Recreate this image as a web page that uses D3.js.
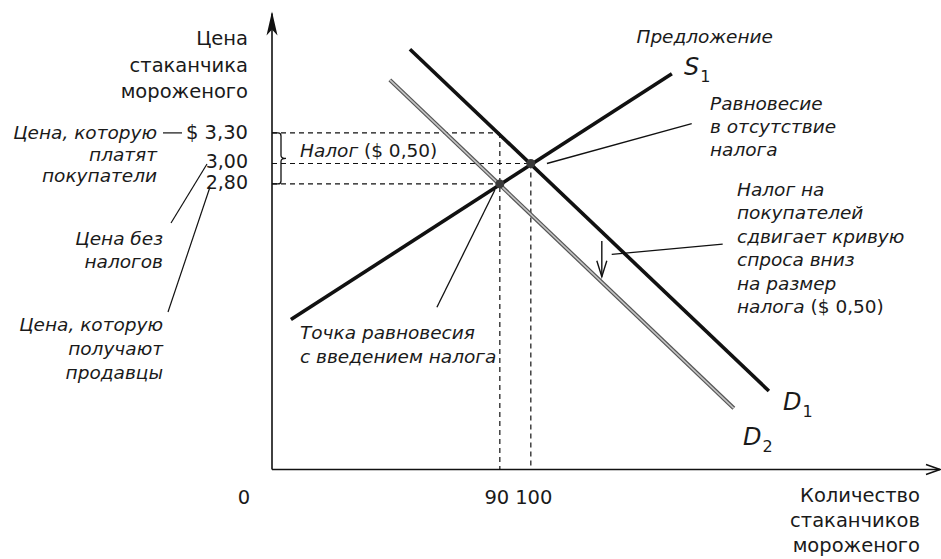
<!DOCTYPE html>
<html><head><meta charset="utf-8">
<script src="https://cdn.jsdelivr.net/npm/d3@7"></script>
<style>
html,body{margin:0;padding:0;background:#fff;}
svg{display:block;}
text{font-family:"DejaVu Sans",sans-serif;fill:#1a1a1a;}
</style></head><body>
<svg id="c" width="941" height="559"></svg>
<script>
// ---- data ----
const priceTicks = [3.30, 3.00, 2.80];
const priceTickLabels = ["$ 3,30", "3,00", "2,80"];
const qtyTicks = [90, 100];
const qtyTickLabels = ["90", "100"];
const originLabel = "0";
const supplyS1 = [[22.6, 1.47], [145.5, 3.88]];
const demandD1 = [[61, 4.12], [176.8, 0.77]];
const demandD2 = [[54.5, 3.82], [165.5, 0.60]];
const equilibria = [[100, 3.00], [90, 2.80]];
const taxBrace = [3.30, 2.80];
const shiftArrow = [[122.9, 2.24], [122.9, 1.89]];
const leaderNoTax = [[105.2, 3.00], [151.9, 3.39]];
const leaderWithTax = [[88.4, 2.74], [69.7, 1.59]];
const leaderShift = [[126.1, 2.11], [161.9, 2.21]];
const yTitle = ["Цена", "стаканчика", "мороженого"];
const xTitle = ["Количество", "стаканчиков", "мороженого"];

const svg = d3.select("#c");
const x = d3.scaleLinear().domain([16.5, 232]).range([272, 940]);
const y = d3.scaleLinear().domain([0, 4.4]).range([469.5, 20.7]);
const line = d3.line().x(d => x(d[0])).y(d => y(d[1]));
const X0 = x(16.5), Y0 = y(0), YT = y(4.47);

// axes
svg.append("line").attr("x1", X0).attr("x2", X0).attr("y1", Y0).attr("y2", YT)
  .attr("stroke", "#111").attr("stroke-width", 1.6);
svg.append("path").attr("d", `M${X0},${YT-2} L${X0+5.5},${YT+22} L${X0},${YT+16} L${X0-5.5},${YT+22} Z`)
  .attr("fill", "#111");
svg.append("line").attr("x1", X0).attr("x2", x(232)).attr("y1", Y0).attr("y2", Y0)
  .attr("stroke", "#111").attr("stroke-width", 1.6);
svg.append("path").attr("d", `M${x(232)-14},${Y0-5} L${x(232)},${Y0} L${x(232)-14},${Y0+5}`)
  .attr("fill", "none").attr("stroke", "#111").attr("stroke-width", 1.4);

// dashed guides
const dash = "5,4";
const g = svg.append("g").attr("stroke", "#111").attr("stroke-width", 1.2).attr("stroke-dasharray", dash).attr("fill", "none");
g.append("line").attr("x1", X0).attr("x2", x(90)).attr("y1", y(3.30)).attr("y2", y(3.30));
g.append("line").attr("x1", X0).attr("x2", x(100)).attr("y1", y(3.00)).attr("y2", y(3.00));
g.append("line").attr("x1", X0).attr("x2", x(90)).attr("y1", y(2.80)).attr("y2", y(2.80));
g.append("line").attr("x1", x(90)).attr("x2", x(90)).attr("y1", y(3.30)).attr("y2", Y0);
g.append("line").attr("x1", x(100)).attr("x2", x(100)).attr("y1", y(3.00)).attr("y2", Y0);

// brace
const bt = y(taxBrace[0]), bb = y(taxBrace[1]), bm = (bt + bb) / 2;
svg.append("path").attr("d",
  `M${X0},${bt} H${X0+6} Q${X0+9},${bt} ${X0+9},${bt+3} V${bm-3} Q${X0+9},${bm} ${X0+14},${bm} Q${X0+9},${bm} ${X0+9},${bm+3} V${bb-3} Q${X0+9},${bb} ${X0+6},${bb} H${X0}`)
  .attr("fill", "none").attr("stroke", "#111").attr("stroke-width", 1.3);

// curves
svg.append("path").attr("d", line(demandD2)).attr("stroke", "#555").attr("stroke-width", 4).attr("fill", "none");
svg.append("path").attr("d", line(demandD2)).attr("stroke", "#c4c4c4").attr("stroke-width", 1.6).attr("fill", "none");
svg.append("path").attr("d", line(demandD1)).attr("stroke", "#111").attr("stroke-width", 3.6).attr("fill", "none");
svg.append("path").attr("d", line(supplyS1)).attr("stroke", "#111").attr("stroke-width", 3.6).attr("fill", "none");

// equilibrium dots
svg.selectAll("circle.eq").data(equilibria).join("circle").attr("class", "eq")
  .attr("cx", d => x(d[0])).attr("cy", d => y(d[1])).attr("r", 4.5).attr("fill", "#3a3a3a");

// leaders
[leaderNoTax, leaderWithTax, leaderShift].forEach(l =>
  svg.append("path").attr("d", line(l)).attr("stroke", "#111").attr("stroke-width", 1.3).attr("fill", "none"));
// shift arrow
const ax = x(shiftArrow[0][0]), ay1 = y(shiftArrow[0][1]), ay2 = y(shiftArrow[1][1]);
svg.append("line").attr("x1", ax).attr("x2", ax).attr("y1", ay1).attr("y2", ay2).attr("stroke", "#111").attr("stroke-width", 1.4);
svg.append("path").attr("d", `M${ax-5},${ay2-16} L${ax},${ay2} L${ax+5},${ay2-16}`).attr("fill", "none").attr("stroke", "#111").attr("stroke-width", 1.4);

// left margin leaders
const lm = svg.append("g").attr("stroke", "#111").attr("stroke-width", 1.2).attr("fill", "none");
lm.append("line").attr("x1", 163).attr("x2", 182).attr("y1", y(3.30)).attr("y2", y(3.30));
lm.append("line").attr("x1", 171).attr("y1", 223).attr("x2", 207).attr("y2", 164);
lm.append("line").attr("x1", 210).attr("y1", 187).attr("x2", 168).attr("y2", 312);

// text helper
function block(lines, tx, ty, dy, anchor, italic, size) {
  const t = svg.append("text").attr("text-anchor", anchor).attr("font-size", size)
    .attr("font-style", italic ? "italic" : "normal");
  lines.forEach((s, i) => t.append("tspan").attr("x", tx).attr("y", ty + i * dy).text(s));
  return t;
}
const FS = 19.5, FI = 18.5;
block(yTitle, 248, 45, 26.7, "end", false, FS);
block(xTitle, 920, 502, 25, "end", false, FS);

// price tick labels
const plY = [139, 168, 189];
priceTickLabels.forEach((s, i) => svg.append("text").attr("x", 248).attr("y", plY[i])
  .attr("text-anchor", "end").attr("font-size", i === 0 ? FS : 19).text(s));
// quantity tick labels
qtyTickLabels.forEach((s, i) => svg.append("text").attr("x", x(qtyTicks[i]) + (i === 0 ? -3 : 3)).attr("y", 504)
  .attr("text-anchor", "middle").attr("font-size", FS).text(s));
svg.append("text").attr("x", 244).attr("y", 504).attr("text-anchor", "middle").attr("font-size", FS).text(originLabel);

// annotations
block(["Цена, которую", "платят", "покупатели"], 157, 139, 21.5, "end", true, FI);
block(["Цена без", "налогов"], 163, 245, 23, "end", true, FI);
block(["Цена, которую", "получают", "продавцы"], 163, 331, 24, "end", true, FI);
block(["Предложение"], 773, 43, 0, "end", true, FI);
block(["Равновесие", "в отсутствие", "налога"], 710, 110, 23, "start", true, FI);
block(["Точка равновесия", "с введением налога"], 300, 339, 24, "start", true, FI);
block(["Налог на", "покупателей", "сдвигает кривую", "спроса вниз", "на размер"], 737, 196, 23.4, "start", true, FI);
const t6 = svg.append("text").attr("x", 737).attr("y", 196 + 5 * 23.4).attr("font-size", FI);
t6.append("tspan").attr("font-style", "italic").text("налога ");
t6.append("tspan").text("($ 0,50)");
const tn = svg.append("text").attr("x", 300).attr("y", 157).attr("font-size", FI);
tn.append("tspan").attr("font-style", "italic").text("Налог ");
tn.append("tspan").text("($ 0,50)");

function curveLabel(letter, sub, tx, ty) {
  const t = svg.append("text").attr("x", tx).attr("y", ty).attr("font-size", 24);
  t.append("tspan").attr("font-style", "italic").text(letter);
  t.append("tspan").attr("font-size", 16).attr("dy", 7).attr("dx", 1).text(sub);
}
curveLabel("S", "1", 684, 75);
curveLabel("D", "1", 783, 410);
curveLabel("D", "2", 743, 445);
</script></body></html>
